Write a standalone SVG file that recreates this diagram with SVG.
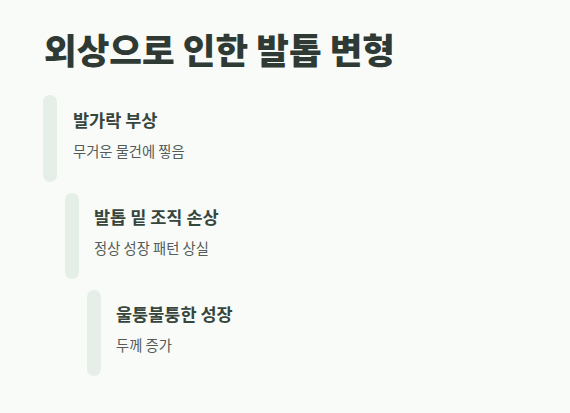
<svg xmlns="http://www.w3.org/2000/svg" width="570" height="413" viewBox="0 0 570 413">
<style>
.bg{fill:#f9fbf9}
.bar{fill:#e6eee8}
.title{font-family:"Noto Sans CJK KR","Noto Sans",sans-serif;font-size:35.5px;font-weight:900;fill:#2f3a34}
.h{font-family:"Noto Sans CJK KR","Noto Sans",sans-serif;font-size:17.5px;font-weight:700;fill:#37463d}
.s{font-family:"Noto Sans CJK KR","Noto Sans",sans-serif;font-size:14.3px;fill:#555b57}
</style>
<rect class="bg" x="0" y="0" width="570" height="413"/>
<text class="title" x="44" y="64">외상으로 인한 발톱 변형</text>
<g id="connectors"></g>
<g id="node1">
<rect class="bar" x="43" y="95" width="14" height="87" rx="7"/>
<text class="h" x="73" y="127">발가락 부상</text>
<text class="s" x="73" y="157">무거운 물건에 찧음</text>
</g>
<g id="node2">
<rect class="bar" x="65" y="193" width="14" height="86" rx="7"/>
<text class="h" x="94" y="224">발톱 밑 조직 손상</text>
<text class="s" x="94" y="254">정상 성장 패턴 상실</text>
</g>
<g id="node3">
<rect class="bar" x="87" y="290" width="14" height="86" rx="7"/>
<text class="h" x="116" y="321">울퉁불퉁한 성장</text>
<text class="s" x="116" y="351">두께 증가</text>
</g>
</svg>
